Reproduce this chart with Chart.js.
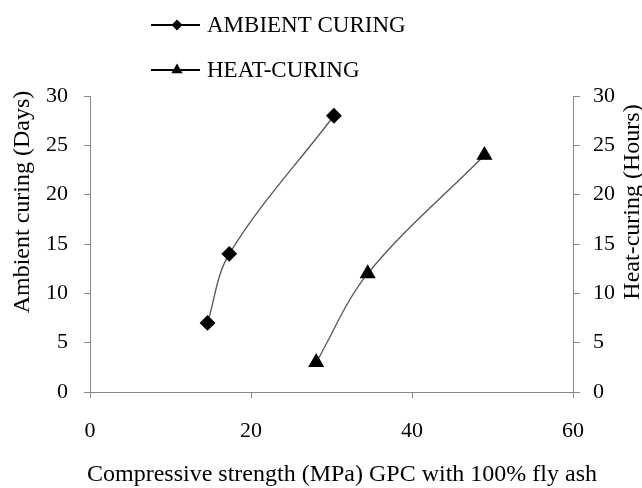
<!DOCTYPE html>
<html>
<head>
<meta charset="utf-8">
<script src="https://cdn.jsdelivr.net/npm/chart.js@4"></script>
<style>
  html, body { margin: 0; padding: 0; background: #fff; }
  #wrap { width: 642px; height: 488px; }
</style>
</head>
<body>
<div id="wrap"><canvas id="strengthChart" width="642" height="488"></canvas></div>
<script>
// values
const ambientStrength = [14.6, 17.3, 30.3];
const ambientDays = [7, 14, 28];
const heatStrength = [28.1, 34.5, 49];
const heatHours = [3, 12, 24];
const seriesNames = ['AMBIENT CURING', 'HEAT-CURING'];
const xTitle = 'Compressive strength (MPa) GPC with 100% fly ash';
const leftTitle = 'Ambient curing (Days)';
const rightTitle = 'Heat-curing (Hours)';

const serif = '"Liberation Serif", "Times New Roman", serif';

function toPoints(xs, ys) {
    return xs.map((x, i) => ({ x: x, y: ys[i] }));
}

// legend drawn by hand: line with marker, stacked at the top
const markerLegend = {
    id: 'markerLegend',
    afterDraw(chart) {
        const ctx = chart.ctx;
        ctx.save();
        chart.data.datasets.forEach((ds, i) => {
            const y = 25 + i * 45;
            ctx.strokeStyle = '#000';
            ctx.lineWidth = 1.8;
            ctx.beginPath();
            ctx.moveTo(151, y);
            ctx.lineTo(200, y);
            ctx.stroke();
            ctx.fillStyle = '#000';
            Chart.helpers.drawPoint(ctx, {
                pointStyle: ds.pointStyle,
                radius: ds.pointRadius - 1.5,
                rotation: 0,
                borderWidth: 0
            }, 177, y);
            ctx.font = '23px ' + serif;
            ctx.textBaseline = 'middle';
            ctx.textAlign = 'left';
            ctx.fillText(ds.label, 207, y + 1);
        });
        ctx.restore();
    }
};

// axis titles sit a bit off-centre in the original, so place them by hand
function drawText(ctx, text, x, y, angle) {
    ctx.save();
    ctx.translate(x, y);
    ctx.rotate(angle);
    ctx.fillStyle = '#000';
    ctx.font = '24px ' + serif;
    ctx.textAlign = 'center';
    ctx.textBaseline = 'middle';
    ctx.fillText(text, 0, 0);
    ctx.restore();
}

const axisTitles = {
    id: 'axisTitles',
    afterDraw(chart) {
        const ctx = chart.ctx;
        drawText(ctx, xTitle, 342, 475, 0);
        drawText(ctx, leftTitle, 23, 202, -Math.PI / 2);
        drawText(ctx, rightTitle, 633, 202, -Math.PI / 2);
    }
};

var ctx = document.getElementById('strengthChart').getContext('2d');
var strengthChart = new Chart(ctx, {
    type: 'line',
    data: {
        datasets: [{
            label: seriesNames[0],
            data: toPoints(ambientStrength, ambientDays),
            yAxisID: 'y',
            borderColor: '#555',
            borderWidth: 1.3,
            backgroundColor: '#000',
            pointBackgroundColor: '#000',
            pointBorderColor: '#000',
            pointStyle: 'rectRot',
            pointRadius: 7,
            tension: 0.35,
            fill: false
        }, {
            label: seriesNames[1],
            data: toPoints(heatStrength, heatHours),
            yAxisID: 'y2',
            borderColor: '#555',
            borderWidth: 1.3,
            backgroundColor: '#000',
            pointBackgroundColor: '#000',
            pointBorderColor: '#000',
            pointStyle: 'triangle',
            pointRadius: 8,
            tension: 0.35,
            fill: false
        }]
    },
    options: {
        responsive: false,
        animation: false,
        layout: { padding: { top: 96 } },
        plugins: {
            legend: { display: false },
            tooltip: { enabled: false }
        },
        scales: {
            x: {
                type: 'linear',
                min: 0,
                max: 60,
                ticks: { stepSize: 20, color: '#000', padding: 20, font: { family: serif, size: 22 } },
                grid: { drawOnChartArea: false, color: '#888', tickLength: 6 },
                border: { color: '#888' },
                afterFit(scale) { scale.height = 96; }
            },
            y: {
                position: 'left',
                min: 0,
                max: 30,
                ticks: { stepSize: 5, color: '#000', padding: 16, font: { family: serif, size: 22 } },
                grid: { drawOnChartArea: false, color: '#888', tickLength: 6 },
                border: { color: '#888' },
                afterFit(scale) { scale.width = 90; }
            },
            y2: {
                position: 'right',
                min: 0,
                max: 30,
                ticks: { stepSize: 5, color: '#000', padding: 13, font: { family: serif, size: 22 } },
                grid: { drawOnChartArea: false, color: '#888', tickLength: 7 },
                border: { color: '#888' },
                afterFit(scale) { scale.width = 69; }
            }
        }
    },
    plugins: [markerLegend, axisTitles]
});
</script>
</body>
</html>
